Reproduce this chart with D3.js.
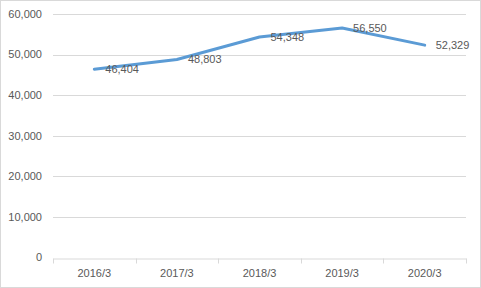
<!DOCTYPE html>
<html>
<head>
<meta charset="utf-8">
<script src="https://cdn.jsdelivr.net/npm/d3@7"></script>
<style>
  body { margin: 0; background: #fff; }
  svg text { font-family: "Liberation Sans", Arial, sans-serif; font-size: 11px; fill: #595959; }
</style>
</head>
<body>
<div id="chart"></div>
<script>
const categories = ["2016/3", "2017/3", "2018/3", "2019/3", "2020/3"];
const values = [46404, 48803, 54348, 56550, 52329];
const yTicks = [0, 10000, 20000, 30000, 40000, 50000, 60000];

const width = 481, height = 288;
const margin = { top: 14, right: 15, bottom: 30.5, left: 53 };

const svg = d3.select("#chart").append("svg")
  .attr("width", width)
  .attr("height", height);

// chart border
svg.append("rect")
  .attr("x", 0.5).attr("y", 0.5)
  .attr("width", width - 1).attr("height", height - 1)
  .attr("fill", "#fff")
  .attr("stroke", "#d9d9d9");

const x = d3.scaleBand()
  .domain(categories)
  .range([margin.left, width - margin.right]);

const y = d3.scaleLinear()
  .domain([0, 60000])
  .range([height - margin.bottom, margin.top]);

// gridlines
svg.append("g")
  .selectAll("line")
  .data(yTicks.filter(d => d > 0))
  .enter()
  .append("line")
  .attr("x1", margin.left)
  .attr("x2", width - margin.right)
  .attr("y1", d => Math.round(y(d)) + 0.5)
  .attr("y2", d => Math.round(y(d)) + 0.5)
  .attr("stroke", "#d9d9d9");

// y labels
svg.append("g")
  .selectAll("text")
  .data(yTicks)
  .enter()
  .append("text")
  .attr("x", 42)
  .attr("y", d => y(d))
  .attr("dy", "0.35em")
  .style("text-anchor", "end")
  .text(d => d3.format(",")(d));

// x axis
const xAxis = d3.axisBottom(x).tickSize(0).tickSizeOuter(0);
const gx = svg.append("g")
  .attr("transform", `translate(0, ${Math.round(y(0)) + 0.5})`)
  .call(xAxis);
gx.select(".domain").attr("stroke", "#d9d9d9");
gx.selectAll(".tick text")
  .attr("dy", null)
  .attr("y", 18)
  .style("font-family", null)
  .style("font-size", null);
gx.attr("font-family", null).attr("font-size", null);

// category separators
const bounds = categories.map(c => x(c)).concat([x(categories[categories.length - 1]) + x.bandwidth()]);
gx.selectAll(".sep")
  .data(bounds)
  .enter()
  .append("line")
  .attr("class", "sep")
  .attr("x1", d => Math.round(d) + 0.5)
  .attr("x2", d => Math.round(d) + 0.5)
  .attr("y1", 0)
  .attr("y2", 5)
  .attr("stroke", "#d9d9d9");

const data = categories.map((c, i) => ({ key: c, value: values[i] }));

// line
const line = d3.line()
  .x(d => x(d.key) + x.bandwidth() / 2)
  .y(d => y(d.value));

svg.append("path")
  .datum(data)
  .attr("d", line)
  .attr("fill", "none")
  .attr("stroke", "#5b9bd5")
  .attr("stroke-width", 3)
  .attr("stroke-linejoin", "round")
  .attr("stroke-linecap", "round");

// value labels
svg.append("g")
  .selectAll("text")
  .data(data)
  .enter()
  .append("text")
  .attr("x", d => x(d.key) + x.bandwidth() / 2 + 11)
  .attr("y", d => y(d.value))
  .attr("dy", "0.35em")
  .text(d => d3.format(",")(d.value));
</script>
</body>
</html>
